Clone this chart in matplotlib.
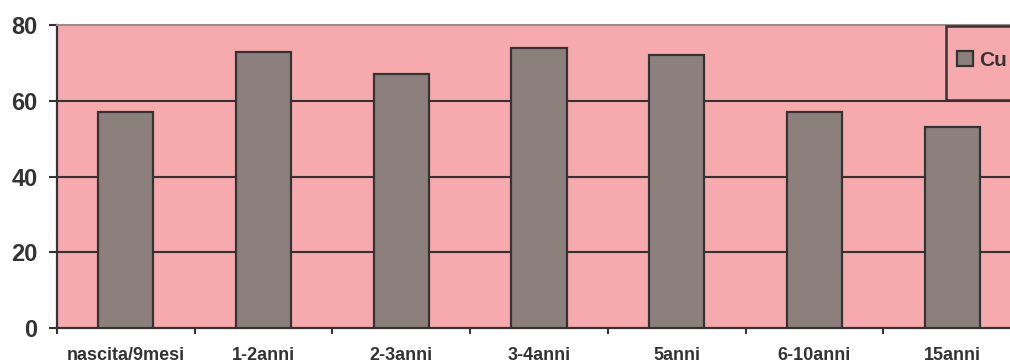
import matplotlib
matplotlib.use("Agg")
import matplotlib.pyplot as plt
from matplotlib.patches import Rectangle
import numpy as np

categories = ["nascita/9mesi", "1-2anni", "2-3anni", "3-4anni", "5anni", "6-10anni", "15anni"]
cu_values = [57, 73, 67, 74, 72, 57, 53]
y_ticks = [0, 20, 40, 60, 80]

plt.rcParams['font.family'] = ['Liberation Sans', 'DejaVu Sans']
plt.rcParams['font.weight'] = 'bold'

dark = '#333333'
pink = '#f7aaad'
bar_color = '#8c807c'

fig = plt.figure(figsize=(10.10, 3.63), dpi=100)
W, H = 1010, 363
ax = fig.add_axes([57 / W, 35 / H, 964 / W, 303 / H])
ax.set_facecolor(pink)

x = np.arange(len(categories))
ax.bar(x, cu_values, width=0.4, color=bar_color, edgecolor=dark, linewidth=1.6,
       zorder=3, label='Cu')

ax.set_xlim(-0.5, len(categories) - 0.5)
ax.set_ylim(0, 80)
ax.set_yticks(y_ticks)
ax.set_yticklabels([str(v) for v in y_ticks], fontsize=17, color=dark, fontweight='bold')
ax.tick_params(axis='y', length=6, width=1.5, color=dark, pad=8)

ax.set_xticks(x)
ax.set_xticklabels(categories, fontsize=13, color=dark, fontweight='bold')
ax.set_xticks(np.arange(len(categories) + 1) - 0.5, minor=True)
ax.tick_params(axis='x', which='major', length=0, pad=14)
ax.tick_params(axis='x', which='minor', length=4, width=1.5, color=dark)

for v in y_ticks[1:-1]:
    ax.axhline(v, color=dark, linewidth=1.5, zorder=1)

ax.spines['left'].set_color(dark)
ax.spines['left'].set_linewidth(1.6)
ax.spines['bottom'].set_color(dark)
ax.spines['bottom'].set_linewidth(1.6)
ax.spines['top'].set_color('#9c8c88')
ax.spines['top'].set_linewidth(1.5)
ax.spines['right'].set_visible(False)

# legend box
ax.add_patch(Rectangle((0.922, 0.752), 0.2, 0.245, transform=ax.transAxes,
                       facecolor=pink, edgecolor=dark, linewidth=1.8, zorder=4,
                       clip_on=False))
leg = ax.legend(loc='center left', bbox_to_anchor=(0.934, 0.884), frameon=False,
                borderpad=0, borderaxespad=0, handlelength=0.75, handleheight=0.75,
                handletextpad=0.3, prop={'size': 15, 'weight': 'bold'})
leg.set_zorder(5)
for t in leg.get_texts():
    t.set_color(dark)

fig.savefig("out.png", dpi=100)
